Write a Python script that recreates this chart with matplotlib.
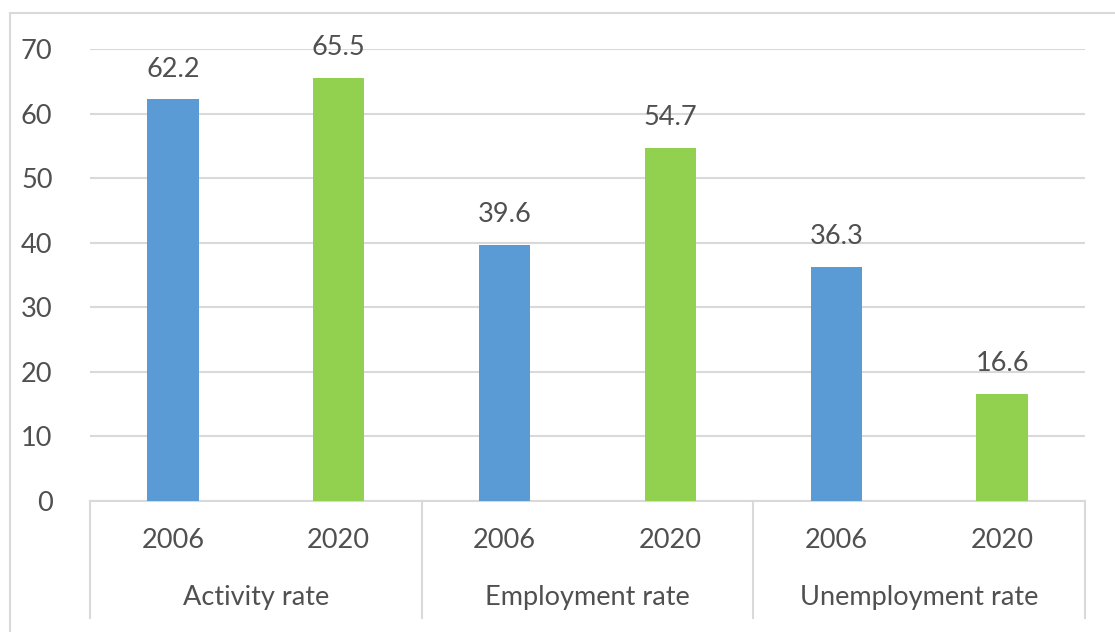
import matplotlib
matplotlib.use("Agg")
import matplotlib.pyplot as plt
from matplotlib.patches import Rectangle
from matplotlib.lines import Line2D

groups = ["Activity rate", "Employment rate", "Unemployment rate"]
years = ["2006", "2020"]
values_2006 = [62.2, 39.6, 36.3]
values_2020 = [65.5, 54.7, 16.6]
yticks = [0, 10, 20, 30, 40, 50, 60, 70]

W, H = 1115, 632
plt.rcParams['font.family'] = ['Lato', 'DejaVu Sans']
fig = plt.figure(figsize=(W / 100, H / 100), dpi=100)

def fx(px):
    return px / W

def fy(py):
    return 1 - py / H

text_color = "#505050"
grid_color = "#d9d9d9"
blue = "#5b9bd5"
green = "#92d050"
fs = 19.5

# outer frame
fig.patches.append(Rectangle((fx(10), fy(700)), fx(1200), (700 - 13) / H,
                             transform=fig.transFigure, fill=False,
                             edgecolor=grid_color, linewidth=1.5))

left, right, top, bottom = 90, 1085, 49, 501
ax = fig.add_axes([fx(left), fy(bottom), fx(right - left), (bottom - top) / H])

n = len(groups) * len(years)
xs = list(range(n))
vals = []
cols = []
for a, b in zip(values_2006, values_2020):
    vals += [a, b]
    cols += [blue, green]

ax.bar(xs, vals, width=0.31, color=cols, zorder=3)
for x, v in zip(xs, vals):
    ax.text(x, v + 4.7, f"{v:.1f}", ha="center", va="center", fontsize=fs,
            color=text_color, clip_on=False)

ax.set_xlim(-0.5, n - 0.5)
ax.set_ylim(0, 70)
ax.set_yticks(yticks)
ax.set_yticklabels([str(t) for t in yticks], fontsize=fs, color=text_color)
ax.tick_params(axis="y", length=0, pad=27)
ax.set_xticks([])
ax.grid(axis="y", color=grid_color, linewidth=1.5, zorder=0)
for s in ["top", "right", "left"]:
    ax.spines[s].set_visible(False)
ax.spines["bottom"].set_color(grid_color)
ax.spines["bottom"].set_linewidth(1.5)

# multi-level category axis
trans = ax.get_xaxis_transform()
for i in range(len(groups) + 1):
    xb = i * 2 - 0.5
    ax.add_line(Line2D([xb, xb], [0, -(618 - bottom) / (bottom - top)], transform=trans,
                       color=grid_color, linewidth=1.5, clip_on=False))
y_year = -(541 - bottom) / (bottom - top)
y_group = -(598 - bottom) / (bottom - top)
for i, x in enumerate(xs):
    ax.text(x, y_year, years[i % 2], transform=trans, ha="center", va="center",
            fontsize=fs, color=text_color)
for g, name in enumerate(groups):
    ax.text(g * 2 + 0.5, y_group, name, transform=trans, ha="center", va="center",
            fontsize=fs, color=text_color)

fig.savefig("out.png", dpi=100)
